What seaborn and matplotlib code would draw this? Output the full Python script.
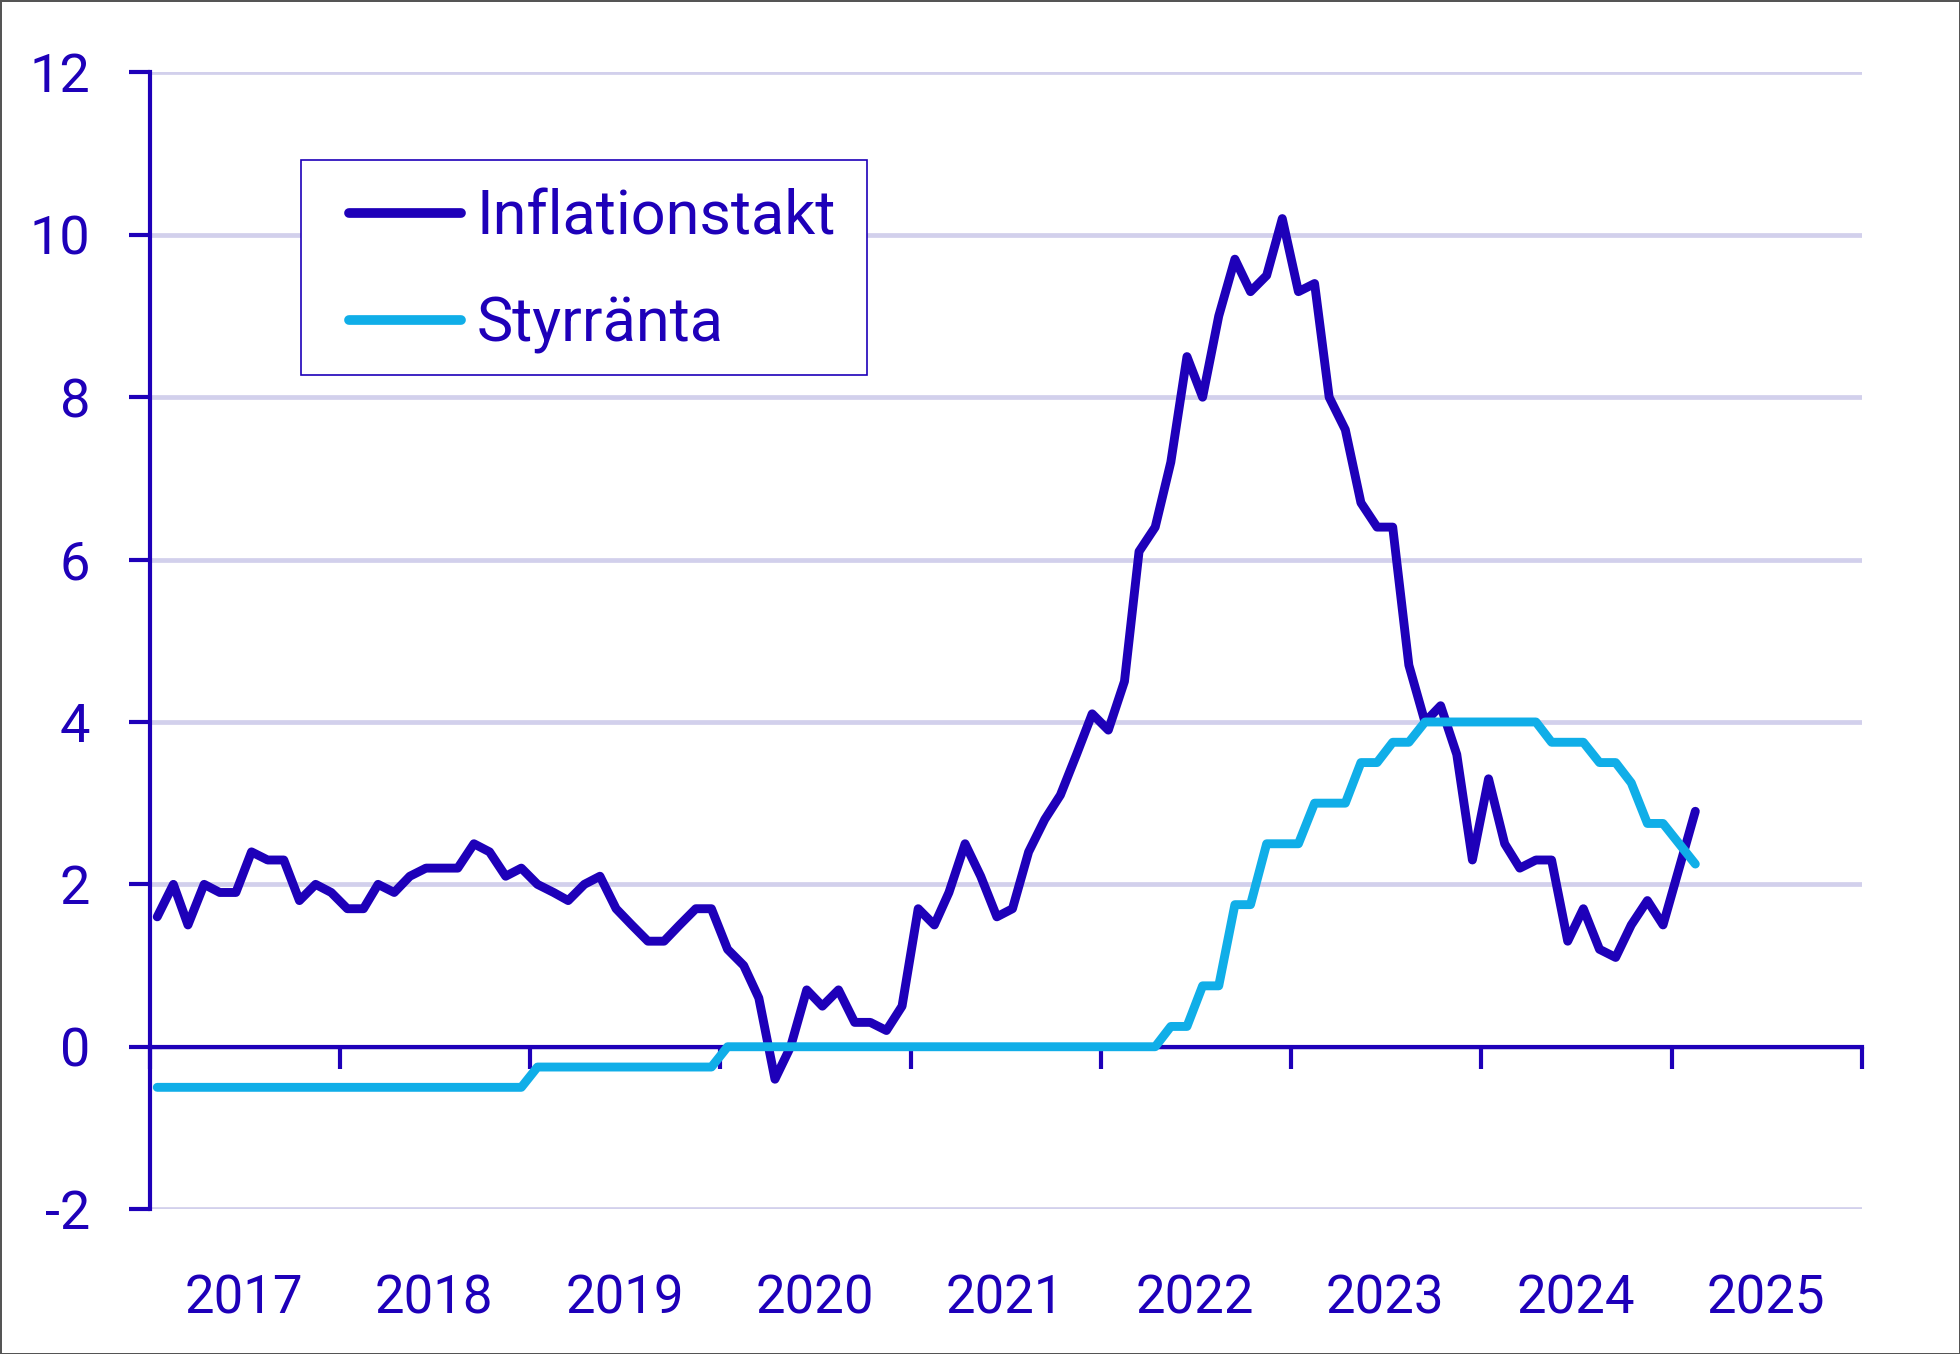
import pandas as pd
import matplotlib.pyplot as plt
from matplotlib.patches import Rectangle
import seaborn as sns

# monthly values, Jan 2017 - Feb 2025
inflationstakt = [
    1.6, 2.0, 1.5, 2.0, 1.9, 1.9, 2.4, 2.3, 2.3, 1.8, 2.0, 1.9,
    1.7, 1.7, 2.0, 1.9, 2.1, 2.2, 2.2, 2.2, 2.5, 2.4, 2.1, 2.2,
    2.0, 1.9, 1.8, 2.0, 2.1, 1.7, 1.5, 1.3, 1.3, 1.5, 1.7, 1.7,
    1.2, 1.0, 0.6, -0.4, 0.0, 0.7, 0.5, 0.7, 0.3, 0.3, 0.2, 0.5,
    1.7, 1.5, 1.9, 2.5, 2.1, 1.6, 1.7, 2.4, 2.8, 3.1, 3.6, 4.1,
    3.9, 4.5, 6.1, 6.4, 7.2, 8.5, 8.0, 9.0, 9.7, 9.3, 9.5, 10.2,
    9.3, 9.4, 8.0, 7.6, 6.7, 6.4, 6.4, 4.7, 4.0, 4.2, 3.6, 2.3,
    3.3, 2.5, 2.2, 2.3, 2.3, 1.3, 1.7, 1.2, 1.1, 1.5, 1.8, 1.5,
    2.2, 2.9,
]
styrranta = [
    -0.5, -0.5, -0.5, -0.5, -0.5, -0.5, -0.5, -0.5, -0.5, -0.5, -0.5, -0.5,
    -0.5, -0.5, -0.5, -0.5, -0.5, -0.5, -0.5, -0.5, -0.5, -0.5, -0.5, -0.5,
    -0.25, -0.25, -0.25, -0.25, -0.25, -0.25, -0.25, -0.25, -0.25, -0.25, -0.25, -0.25,
    0.0, 0.0, 0.0, 0.0, 0.0, 0.0, 0.0, 0.0, 0.0, 0.0, 0.0, 0.0,
    0.0, 0.0, 0.0, 0.0, 0.0, 0.0, 0.0, 0.0, 0.0, 0.0, 0.0, 0.0,
    0.0, 0.0, 0.0, 0.0, 0.25, 0.25, 0.75, 0.75, 1.75, 1.75, 2.5, 2.5,
    2.5, 3.0, 3.0, 3.0, 3.5, 3.5, 3.75, 3.75, 4.0, 4.0, 4.0, 4.0,
    4.0, 4.0, 4.0, 4.0, 3.75, 3.75, 3.75, 3.5, 3.5, 3.25, 2.75, 2.75,
    2.5, 2.25,
]
series_names = ['Inflationstakt', 'Styrränta']
years = [2017, 2018, 2019, 2020, 2021, 2022, 2023, 2024, 2025]
y_ticks = [-2, 0, 2, 4, 6, 8, 10, 12]

DARK = '#1e00b9'
CYAN = '#10aee8'
GRID = '#d2d0ec'

months = pd.date_range('2017-01-01', periods=len(inflationstakt), freq='MS') + pd.Timedelta(days=14)
df = pd.concat([
    pd.DataFrame({'month': months, 'value': inflationstakt, 'serie': series_names[0]}),
    pd.DataFrame({'month': months, 'value': styrranta, 'serie': series_names[1]}),
])

sns.set_style('white')
plt.rcParams['font.family'] = ['Roboto', 'DejaVu Sans']

fig = plt.figure(figsize=(19.6, 13.54), dpi=100)
fig.patch.set_edgecolor('#555555')
fig.patch.set_linewidth(2)
ax = fig.add_axes([0.0765, 0.107, 0.8735, 0.8395])

sns.lineplot(data=df, x='month', y='value', hue='serie', hue_order=series_names,
             palette=[DARK, CYAN], linewidth=6.4, ax=ax,
             solid_capstyle='round', solid_joinstyle='round')

# axes
ax.set_xlim(pd.Timestamp('2017-01-01'), pd.Timestamp('2026-01-01'))
ax.set_ylim(-2, 12)
ax.set_yticks(y_ticks)
ax.set_yticklabels([str(v) for v in y_ticks])
for y in y_ticks:
    ax.axhline(y, color=GRID, linewidth=3.4, zorder=0)

ax.spines['top'].set_visible(False)
ax.spines['right'].set_visible(False)
ax.spines['bottom'].set_position(('data', 0))
ax.spines['bottom'].set_color(DARK)
ax.spines['bottom'].set_linewidth(3.0)
ax.spines['bottom'].set_zorder(1)
ax.spines['left'].set_color(DARK)
ax.spines['left'].set_linewidth(3.0)

ax.set_xticks([pd.Timestamp(f'{y}-01-01') for y in years + [2026]])
ax.xaxis.set_major_formatter(plt.NullFormatter())
ax.tick_params(axis='x', bottom=True, direction='out', length=16, width=3.0, color=DARK)
ax.tick_params(axis='y', left=True, direction='out', length=15, width=3.0, color=DARK,
               labelsize=39, labelcolor=DARK, pad=28)
ax.set_xlabel('')
ax.set_ylabel('')

for y in years:
    ax.text(pd.Timestamp(f'{y}-07-01'), -0.079, str(y), transform=ax.get_xaxis_transform(),
            ha='center', va='center', fontsize=38, color=DARK)

# legend: frame drawn separately, entries without frame
ax.add_patch(Rectangle((0.0882, 0.734), 0.3308, 0.189, transform=ax.transAxes,
                       facecolor='white', edgecolor=DARK, linewidth=1.2, zorder=4))
leg = ax.legend(loc='upper left', bbox_to_anchor=(0.1165, 0.898), fontsize=44,
                frameon=False, handlelength=1.83, handletextpad=0.25,
                labelspacing=0.80, borderpad=0, borderaxespad=0)
leg.set_zorder(5)
for t in leg.get_texts():
    t.set_color(DARK)
for h in leg.get_lines():
    h.set_linewidth(7)
    h.set_solid_capstyle('round')

fig.savefig('out.png', dpi=100, edgecolor=fig.get_edgecolor())
